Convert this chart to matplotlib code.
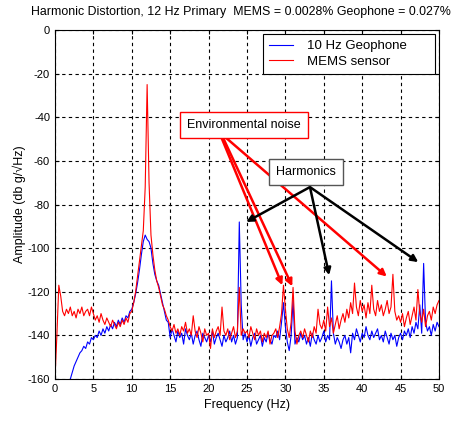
import numpy as np
import matplotlib
matplotlib.use("Agg")
import matplotlib.pyplot as plt

plt.rcParams['axes.unicode_minus'] = False
plt.rcParams['font.family'] = ['Liberation Sans', 'DejaVu Sans']

#################################################
# Data (0.25 Hz bins)
freq = np.arange(0, 50.01, 0.25)

mems = [
    -160, -140, -117, -122, -129, -131, -128, -130, -127, -131,
    -129, -132, -128, -130, -127, -131, -129, -128, -131, -127,
    -130, -133, -131, -134, -130, -133, -135, -132, -134, -136,
    -133, -135, -137, -134, -136, -133, -135, -132, -134, -130,
    -129, -125, -120, -113, -106, -99, -92, -72, -25, -70,
    -94, -103, -110, -115, -118, -122, -126, -128, -131, -133,
    -136, -138, -135, -139, -137, -140, -136, -138, -134, -139,
    -137, -140, -131, -138, -141, -136, -139, -143, -137, -140,
    -139, -146, -137, -141, -138, -136, -140, -127, -138, -140,
    -137, -142, -139, -136, -141, -138, -118, -140, -137, -139,
    -138, -141, -136, -139, -142, -137, -140, -138, -143, -139,
    -141, -138, -144, -140, -139, -137, -141, -136, -130, -117,
    -128, -137, -141, -134, -118, -138, -144, -140, -138, -141,
    -137, -140, -143, -138, -141, -136, -139, -128, -135, -137,
    -133, -138, -127, -136, -132, -139, -135, -131, -137, -133,
    -130, -134, -128, -132, -125, -130, -116, -127, -131, -124,
    -129, -126, -132, -125, -130, -117, -128, -131, -124, -129,
    -126, -131, -128, -124, -130, -127, -112, -129, -133, -131,
    -134, -130, -136, -132, -129, -135, -131, -127, -133, -119,
    -130, -134, -128, -136, -131, -129, -133, -127, -130, -126,
    -124,
]

geophone = [
    -190, -185, -180, -176, -172, -169, -166, -163, -160, -157,
    -154, -152, -150, -148, -147, -145, -146, -143, -144, -141,
    -142, -140, -141, -138, -140, -137, -139, -136, -138, -135,
    -137, -134, -136, -133, -135, -132, -134, -131, -132, -129,
    -128, -125, -121, -116, -110, -103, -97, -94, -96, -97,
    -100, -107, -112, -115, -117, -121, -125, -129, -133, -134,
    -141, -137, -140, -143, -138, -141, -139, -144, -137, -140,
    -142, -139, -144, -140, -138, -142, -145, -139, -141, -143,
    -140, -143, -138, -144, -141, -139, -142, -145, -140, -143,
    -141, -138, -143, -140, -144, -141, -88, -126, -142, -139,
    -143, -140, -145, -141, -139, -144, -142, -140, -145, -141,
    -143, -139, -142, -144, -140, -141, -138, -142, -134, -125,
    -136, -143, -147, -140, -124, -144, -141, -143, -139, -142,
    -140, -144, -141, -145, -139, -142, -144, -140, -143, -141,
    -138, -143, -140, -142, -115, -139, -144, -141, -143, -146,
    -142, -140, -144, -141, -148, -139, -142, -137, -140, -143,
    -139, -141, -136, -140, -142, -138, -141, -139, -137, -142,
    -140, -143, -138, -141, -144, -139, -142, -140, -145, -141,
    -139, -142, -138, -140, -137, -141, -136, -139, -134, -137,
    -126, -139, -107, -134, -138, -136, -140, -135, -138, -134,
    -136,
]

x_ticks = [0, 5, 10, 15, 20, 25, 30, 35, 40, 45, 50]
y_ticks = [0, -20, -40, -60, -80, -100, -120, -140, -160]

#################################################
# Annotations: label, box centre, arrow start(s), arrow tips
noise_label = "Environmental noise"
noise_box = (24.6, -43.6)
noise_starts = [(21.7, -49.5), (21.9, -49.5), (22.3, -49.5)]
noise_tips = [(29.6, -117), (30.9, -117.5), (43.2, -113)]

harm_label = "Harmonics"
harm_box = (32.7, -65.1)
harm_start = (33.2, -72)
harm_tips = [(24.9, -88), (35.7, -112.4), (47.3, -106.4)]

#################################################
fig = plt.figure(figsize=(4.58, 4.23), dpi=100)
ax = fig.add_axes([0.120, 0.104, 0.8385, 0.825])

ax.plot(freq, geophone, "-", color="#0000ff", lw=0.8, label="10 Hz Geophone      ")
ax.plot(freq, mems, "-", color="#ff0000", lw=0.8, label="MEMS sensor")

ax.set_xlim(0, 50)
ax.set_ylim(-160, 0)
ax.set_xticks(x_ticks)
ax.set_yticks(y_ticks)
ax.tick_params(direction="in", length=3, labelsize=8, top=True, right=True)
ax.grid(True, color="black", linestyle=(0, (3, 3)), lw=0.8)
for s in ax.spines.values():
    s.set_linewidth(0.8)

fig.text(0.527, 0.972, "Harmonic Distortion, 12 Hz Primary  MEMS = 0.0028% Geophone = 0.027%",
         fontsize=8.9, ha="center", va="center")
ax.set_xlabel("Frequency (Hz)", fontsize=9)
ax.set_ylabel("Amplitude (db g/\u221aHz)", fontsize=9, labelpad=1)

leg = ax.legend(loc="upper right", fontsize=9.5, fancybox=False, framealpha=1,
                edgecolor="black", handlelength=1.8, handletextpad=1.1,
                borderpad=0.45, labelspacing=0.25, borderaxespad=0.3)
leg.get_frame().set_linewidth(0.8)

for start, tip in zip(noise_starts, noise_tips):
    ax.annotate("", xy=tip, xytext=start,
                arrowprops=dict(arrowstyle="-|>", color="#ff0000", lw=1.8,
                                mutation_scale=10, shrinkA=0, shrinkB=0))
for tip in harm_tips:
    ax.annotate("", xy=tip, xytext=harm_start,
                arrowprops=dict(arrowstyle="-|>", color="black", lw=1.8,
                                mutation_scale=10, shrinkA=0, shrinkB=0))

ax.text(noise_box[0], noise_box[1], noise_label, fontsize=9, ha="center", va="center",
        bbox=dict(boxstyle="square,pad=0.55", fc="white", ec="#ff0000", lw=1))
ax.text(harm_box[0], harm_box[1], harm_label, fontsize=9, ha="center", va="center",
        bbox=dict(boxstyle="square,pad=0.55", fc="white", ec="#555555", lw=1))

fig.savefig("out.png", dpi=100)
